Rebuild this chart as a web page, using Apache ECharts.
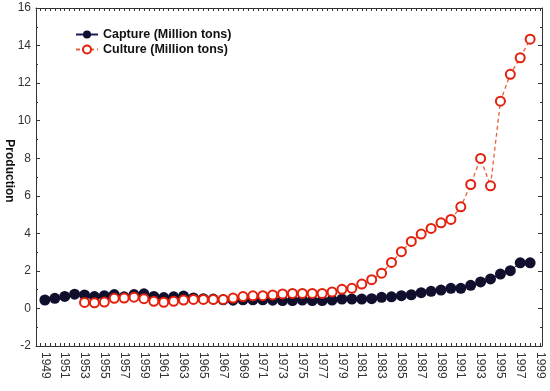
<!DOCTYPE html>
<html>
<head>
<meta charset="utf-8">
<script src="https://cdn.jsdelivr.net/npm/echarts@6/dist/echarts.min.js"></script>
<style>
html,body{margin:0;padding:0;background:#fff;}
#chart{width:550px;height:391px;}
</style>
</head>
<body>
<div id="chart"></div>
<script>
var captureYears = [1949,1950,1951,1952,1953,1954,1955,1956,1957,1958,1959,1960,1961,1962,1963,1964,1965,1966,1967,1968,1969,1970,1971,1972,1973,1974,1975,1976,1977,1978,1979,1980,1981,1982,1983,1984,1985,1986,1987,1988,1989,1990,1991,1992,1993,1994,1995,1996,1997,1998];
var captureValues = [0.45,0.54,0.64,0.76,0.72,0.63,0.68,0.74,0.62,0.74,0.78,0.64,0.58,0.62,0.66,0.56,0.52,0.50,0.46,0.44,0.46,0.46,0.46,0.44,0.42,0.42,0.45,0.42,0.42,0.45,0.50,0.50,0.50,0.52,0.59,0.62,0.68,0.73,0.84,0.91,0.98,1.07,1.07,1.23,1.41,1.57,1.83,2.01,2.43,2.43];
var cultureYears = [1953,1954,1955,1956,1957,1958,1959,1960,1961,1962,1963,1964,1965,1966,1967,1968,1969,1970,1971,1972,1973,1974,1975,1976,1977,1978,1979,1980,1981,1982,1983,1984,1985,1986,1987,1988,1989,1990,1991,1992,1993,1994,1995,1996,1997,1998];
var cultureValues = [0.32,0.30,0.34,0.54,0.55,0.60,0.52,0.38,0.33,0.38,0.45,0.48,0.48,0.48,0.48,0.55,0.63,0.67,0.68,0.72,0.77,0.80,0.80,0.80,0.80,0.88,1.02,1.07,1.30,1.53,1.88,2.45,3.02,3.57,3.96,4.26,4.56,4.74,5.41,6.60,7.99,6.53,11.04,12.47,13.35,14.34];
var xTickLabels = [1949,1951,1953,1955,1957,1959,1961,1963,1965,1967,1969,1971,1973,1975,1977,1979,1981,1983,1985,1987,1989,1991,1993,1995,1997,1999];
var yAxisTitle = 'Production';
var xMinorTicks = [];
for (var y = 1948.5; y <= 1999.1; y += 0.5) xMinorTicks.push(y);

var captureData = captureYears.map(function(y,i){return [y, captureValues[i]];});
var cultureData = cultureYears.map(function(y,i){return [y, cultureValues[i]];});

var axisColor = '#333';
var FONT = 'Liberation Sans, Arial, sans-serif';

var chart = echarts.init(document.getElementById('chart'), null, {renderer:'canvas'});
chart.setOption({
  animation: false,
  backgroundColor: '#fff',
  grid: {left: 36, right: 8, top: 8, bottom: 45, containLabel: false, outerBoundsMode: 'none'},
  graphic: [{
    type: 'text', x: 9, y: 171, rotation: -Math.PI / 2,
    style: {text: yAxisTitle, fill: '#111', font: 'bold 12px ' + FONT,
      align: 'center', verticalAlign: 'middle'}
  }],
  legend: {
    orient: 'vertical',
    left: 70, top: 23,
    itemWidth: 22, itemHeight: 10, itemGap: 2,
    textStyle: {fontFamily: FONT, fontWeight: 'bold', fontSize: 12.5, color: '#111'},
    data: ['Capture (Million tons)', 'Culture (Million tons)']
  },
  xAxis: [{
    type: 'value', position: 'bottom',
    min: 1948.1, max: 1999.2,
    axisLine: {show: true, onZero: false, lineStyle: {color: axisColor, width: 1}},
    axisTick: {show: true, inside: true, length: 3, customValues: xMinorTicks, lineStyle: {color: axisColor}},
    axisLabel: {show: true, customValues: xTickLabels, rotate: -90, margin: 6,
      fontFamily: FONT, fontSize: 12, color: '#333',
      formatter: function(v){return String(Math.round(v));}},
    splitLine: {show: false}
  }, {
    type: 'value', position: 'top',
    min: 1948.1, max: 1999.2,
    axisLine: {show: true, onZero: false, lineStyle: {color: axisColor, width: 1}},
    axisTick: {show: true, inside: true, length: 3, customValues: xMinorTicks, lineStyle: {color: axisColor}},
    axisLabel: {show: false},
    splitLine: {show: false}
  }],
  yAxis: [{
    type: 'value', position: 'left',
    min: -2, max: 16, interval: 2,
    axisLine: {show: true, onZero: false, lineStyle: {color: axisColor, width: 1}},
    axisTick: {show: true, inside: true, length: 4, lineStyle: {color: axisColor}},
    minorTick: {show: true, splitNumber: 2, length: 2, lineStyle: {color: axisColor}},
    axisLabel: {fontFamily: FONT, fontSize: 12, color: '#333', margin: 5},
    splitLine: {show: false}
  }, {
    type: 'value', position: 'right',
    min: -2, max: 16, interval: 2,
    axisLine: {show: true, onZero: false, lineStyle: {color: axisColor, width: 1}},
    axisTick: {show: true, inside: true, length: 4, lineStyle: {color: axisColor}},
    minorTick: {show: true, splitNumber: 2, length: 2, lineStyle: {color: axisColor}},
    axisLabel: {show: false},
    splitLine: {show: false}
  }],
  series: [{
    name: 'Capture (Million tons)',
    type: 'line',
    xAxisIndex: 0, yAxisIndex: 0,
    data: captureData,
    symbol: 'circle', symbolSize: 11,
    itemStyle: {color: '#10102e'},
    lineStyle: {color: '#1a1a5a', width: 1},
    z: 2
  }, {
    name: 'Culture (Million tons)',
    type: 'line',
    xAxisIndex: 0, yAxisIndex: 0,
    data: cultureData,
    symbol: 'emptyCircle', symbolSize: 9,
    itemStyle: {color: '#e3200c', borderColor: '#e3200c', borderWidth: 2.3},
    lineStyle: {color: '#e8603a', width: 1.3, type: [4, 3]},
    z: 3
  }]
});
</script>
</body>
</html>
